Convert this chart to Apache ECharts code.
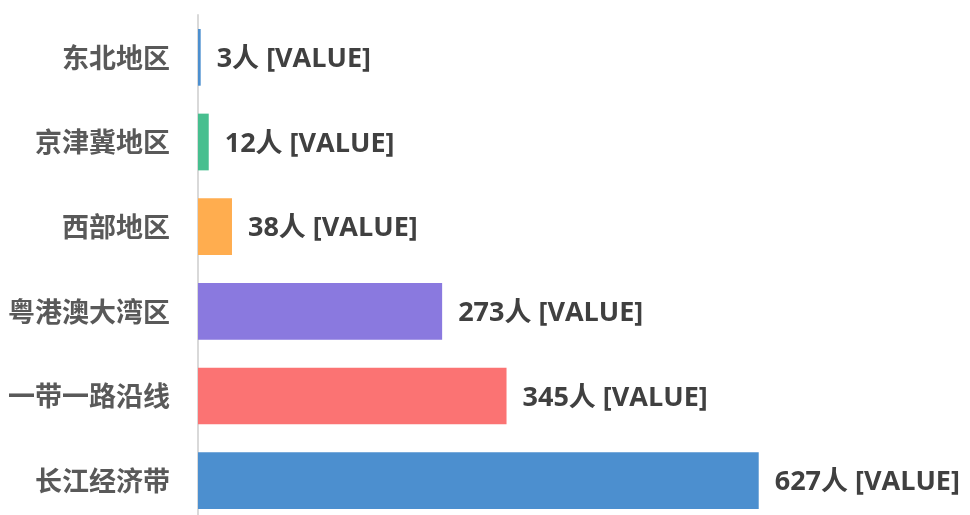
<!DOCTYPE html>
<html>
<head>
<meta charset="utf-8">
<style>
  html, body { margin: 0; padding: 0; background: #fff; }
  #chart { width: 970px; height: 515px; }
</style>
<script src="https://cdn.jsdelivr.net/npm/echarts@6/dist/echarts.min.js"></script>
</head>
<body>
<div id="chart"></div>
<script>
// bottom to top, as the y axis is drawn
const regions = ['长江经济带', '一带一路沿线', '粤港澳大湾区', '西部地区', '京津冀地区', '东北地区'];
const people = [627, 345, 273, 38, 12, 3];
const barColors = ['#4c8fcf', '#fb7373', '#8a79df', '#ffad4f', '#47bf8f', '#4c8fcf'];

const chart = echarts.init(document.getElementById('chart'), null, { renderer: 'canvas' });

chart.setOption({
  animation: false,
  grid: { left: 198, top: 15, width: 626, height: 508, outerBoundsMode: 'none', containLabel: false },
  xAxis: {
    type: 'value',
    min: 0,
    max: 700,
    show: false
  },
  yAxis: {
    type: 'category',
    data: regions,
    axisTick: { show: false },
    axisLine: { show: true, lineStyle: { color: '#d9d9d9', width: 2 } },
    axisLabel: {
      margin: 28,
      color: '#595959',
      fontSize: 27,
      fontWeight: 'bold',
      fontFamily: 'Noto Sans CJK SC'
    }
  },
  series: [{
    type: 'bar',
    barWidth: '67%',
    data: people.map((v, i) => ({ value: v, itemStyle: { color: barColors[i] } })),
    label: {
      show: true,
      position: 'right',
      distance: 16,
      offset: [0, 2],
      formatter: p => p.value + '人 [VALUE]',
      color: '#404040',
      fontSize: 27,
      fontWeight: 'bold',
      fontFamily: "'Open Sans', 'Noto Sans CJK SC'"
    }
  }]
});
</script>
</body>
</html>
